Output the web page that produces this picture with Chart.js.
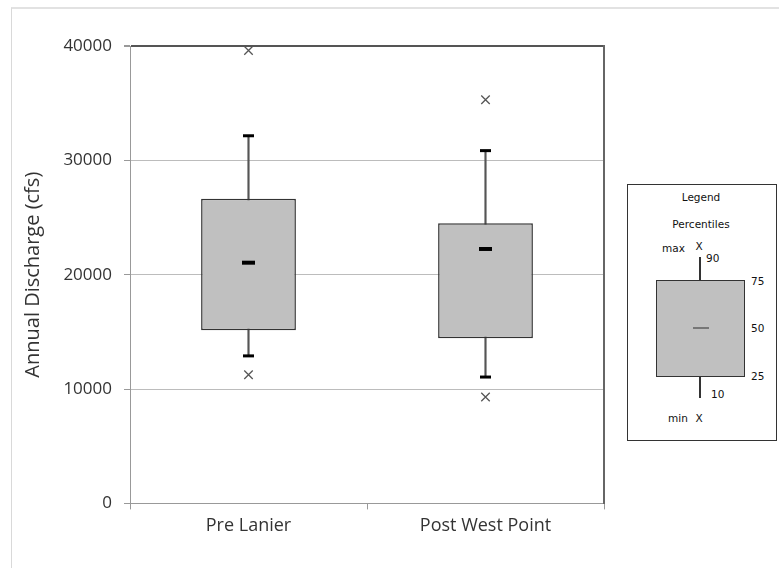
<!DOCTYPE html>
<html>
<head>
<meta charset="utf-8">
<script src="https://cdn.jsdelivr.net/npm/chart.js@4.4.1/dist/chart.umd.min.js"></script>
<style>
  html, body { margin: 0; padding: 0; background: #fff; }
  #wrap { position: relative; width: 779px; height: 568px; overflow: hidden; }
  #frame { position: absolute; left: 11px; top: 7px; right: -2px; bottom: -2px;
           border-left: 1px solid #d9d9d9; border-top: 2px solid #e2e2e2; }
  #chart2 { position: absolute; left: 0; top: 0; }
  #legend { position: absolute; left: 627px; top: 184px; width: 148px; height: 255px;
            border: 1px solid #333; background: #fff;
            font-family: "DejaVu Sans", sans-serif; font-size: 10.5px; color: #111; }
  #legend .t { position: absolute; transform: translateY(-50%); white-space: nowrap; }
  #legend .c { transform: translate(-50%, -50%); }
  #legend .wh { position: absolute; width: 1.5px; background: #333; }
</style>
</head>
<body>
<div id="wrap">
  <div id="frame"></div>
  <canvas id="chart2" width="779" height="568"></canvas>
  <div id="legend">
    <div class="t c" style="left:73px; top:12px;">Legend</div>
    <div class="t c" style="left:73px; top:39px;">Percentiles</div>
    <div class="t" style="left:34px; top:63px;">max</div>
    <div class="t c" style="left:71px; top:61px;">X</div>
    <div class="wh" style="left:71px; top:72px; height:23px;"></div>
    <div class="t" style="left:78px; top:73px;">90</div>
    <div style="position:absolute; left:28px; top:95px; width:87px; height:95px; background:#c0c0c0; border:1px solid #333;"></div>
    <div style="position:absolute; left:65px; top:142px; width:16px; height:2px; background:#777;"></div>
    <div class="t" style="left:123px; top:96px;">75</div>
    <div class="t" style="left:123px; top:143px;">50</div>
    <div class="t" style="left:123px; top:191px;">25</div>
    <div class="wh" style="left:71px; top:192px; height:21px;"></div>
    <div class="t" style="left:83px; top:209px;">10</div>
    <div class="t" style="left:40px; top:233px;">min</div>
    <div class="t c" style="left:71px; top:233px;">X</div>
  </div>
</div>
<script>
// categories and percentile values (cfs)
const categories = ['Pre Lanier', 'Post West Point'];
const minVals = [11250, 9300];
const p10 = [12900, 11050];
const p25 = [15150, 14450];
const median = [21050, 22250];
const p75 = [26650, 24500];
const p90 = [32150, 30850];
const maxVals = [39600, 35300];
const yTicks = [0, 10000, 20000, 30000, 40000];

const ctx = document.getElementById('chart2');
const fam = '"Open Sans", sans-serif';

new Chart(ctx, {
  type: 'bar',
  data: {
    labels: categories,
    datasets: [
      {
        type: 'line', label: 'median', data: median, showLine: false,
        pointStyle: 'line', pointRadius: 6.5, pointBorderWidth: 4,
        borderColor: '#000', clip: false
      },
      {
        type: 'line', label: '90th', data: p90, showLine: false,
        pointStyle: 'line', pointRadius: 5.5, pointBorderWidth: 3,
        borderColor: '#000', clip: false
      },
      {
        type: 'line', label: '10th', data: p10, showLine: false,
        pointStyle: 'line', pointRadius: 5.5, pointBorderWidth: 3,
        borderColor: '#000', clip: false
      },
      {
        type: 'line', label: 'max', data: maxVals, showLine: false,
        pointStyle: 'crossRot', pointRadius: 6, pointBorderWidth: 1.3,
        borderColor: '#555', clip: false
      },
      {
        type: 'line', label: 'min', data: minVals, showLine: false,
        pointStyle: 'crossRot', pointRadius: 6, pointBorderWidth: 1.3,
        borderColor: '#555', clip: false
      },
      {
        label: 'box', data: categories.map((c, i) => [p25[i], p75[i]]),
        backgroundColor: '#c0c0c0', borderColor: '#333', borderWidth: 1.5,
        borderSkipped: false, grouped: false,
        barPercentage: 0.4, categoryPercentage: 1
      },
      {
        label: 'whisker', data: categories.map((c, i) => [p10[i], p90[i]]),
        backgroundColor: '#555', borderWidth: 0,
        borderSkipped: false, grouped: false, barThickness: 1.5
      }
    ]
  },
  options: {
    responsive: false,
    animation: false,
    layout: { padding: { left: 12, right: 167, top: 46, bottom: 25 } },
    plugins: { legend: { display: false }, tooltip: { enabled: false } },
    scales: {
      x: {
        offset: true,
        grid: { offset: true, drawOnChartArea: false, tickLength: 6, color: '#999' },
        border: { color: '#999' },
        ticks: { font: { family: fam, size: 18 }, color: '#333', padding: 6 }
      },
      y: {
        min: 0, max: 40000,
        afterBuildTicks: (scale) => { scale.ticks = yTicks.map(v => ({ value: v })); },
        afterFit: (scale) => { scale.width = 118; },
        grid: {
          tickLength: 6,
          color: (c) => c.tick && c.tick.value === 40000 ? '#555' : '#bcbcbc',
          lineWidth: (c) => c.tick && c.tick.value === 40000 ? 2 : 1,
          tickColor: '#999'
        },
        border: { color: '#999' },
        ticks: {
          font: { family: fam, size: 17 }, color: '#333', padding: 12,
          callback: (v) => String(v)
        },
        title: {
          display: true, text: 'Annual Discharge (cfs)', font: { family: fam, size: 20 },
          color: '#333', padding: { top: 9, bottom: 0 }
        }
      },
      yRight: {
        type: 'linear', position: 'right', min: 0, max: 40000,
        grid: { display: false }, ticks: { display: false },
        border: { color: '#666', width: 2 }
      }
    }
  }
});
</script>
</body>
</html>
